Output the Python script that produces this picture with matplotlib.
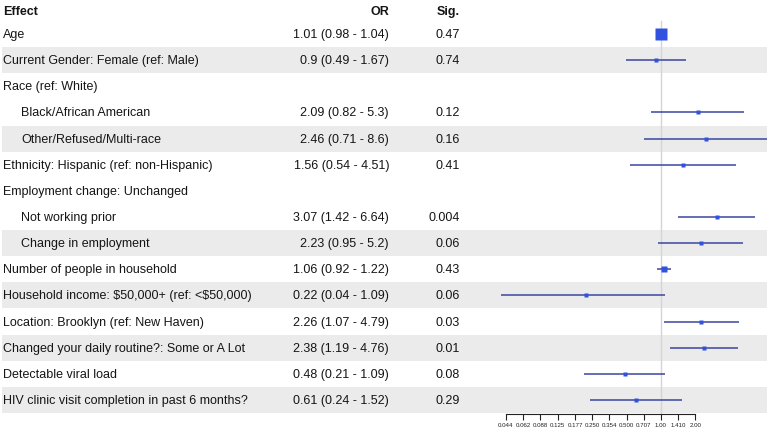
import numpy as np
import matplotlib
matplotlib.use("Agg")
import matplotlib.pyplot as plt
from matplotlib.patches import Rectangle

plt.rcParams['font.family'] = ['Liberation Sans', 'DejaVu Sans']

# ---------------- data ----------------
labels = [
    "Age",
    "Current Gender: Female (ref: Male)",
    "Race (ref: White)",
    "Black/African American",
    "Other/Refused/Multi-race",
    "Ethnicity: Hispanic (ref: non-Hispanic)",
    "Employment change: Unchanged",
    "Not working prior",
    "Change in employment",
    "Number of people in household",
    "Household income: \\$50,000+ (ref: <\\$50,000)",
    "Location: Brooklyn (ref: New Haven)",
    "Changed your daily routine?: Some or A Lot",
    "Detectable viral load",
    "HIV clinic visit completion in past 6 months?",
]
indent = [0, 0, 0, 1, 1, 0, 0, 1, 1, 0, 0, 0, 0, 0, 0]
odds = [1.01, 0.9, None, 2.09, 2.46, 1.56, None, 3.07, 2.23, 1.06, 0.22, 2.26, 2.38, 0.48, 0.61]
lower = [0.98, 0.49, None, 0.82, 0.71, 0.54, None, 1.42, 0.95, 0.92, 0.04, 1.07, 1.19, 0.21, 0.24]
upper = [1.04, 1.67, None, 5.3, 8.6, 4.51, None, 6.64, 5.2, 1.22, 1.09, 4.79, 4.76, 1.09, 1.52]
sig = ["0.47", "0.74", "", "0.12", "0.16", "0.41", "", "0.004", "0.06", "0.43", "0.06", "0.03", "0.01", "0.08", "0.29"]
shaded_rows = [1, 4, 8, 10, 12, 14]
tick_labels = ["0.044", "0.062", "0.088", "0.125", "0.177", "0.250", "0.354", "0.500", "0.707", "1.00", "1.410", "2.00"]

# ---------------- layout ----------------
W, H = 770, 431
fig = plt.figure(figsize=(W / 100, H / 100), dpi=100)
ax = fig.add_axes([0, 0, 1, 1])
ax.set_xlim(0, W)
ax.set_ylim(H, 0)
ax.axis('off')

row0, step = 35.0, 26.14
ys = [row0 + i * step for i in range(len(labels))]
fs = 9.0
txt_col = '#151515'

for i in shaded_rows:
    ax.add_patch(Rectangle((2, ys[i] - 13), 765, 26, facecolor='#ebebeb', edgecolor='none', zorder=0))

ax.text(3, 12, "Effect", ha='left', va='center', fontsize=fs, fontweight='bold', color=txt_col)
ax.text(389, 12, "OR", ha='right', va='center', fontsize=fs, fontweight='bold', color=txt_col)
ax.text(460, 12, "Sig.", ha='right', va='center', fontsize=fs, fontweight='bold', color=txt_col)

for i, lab in enumerate(labels):
    ax.text(21 if indent[i] else 3, ys[i], lab, ha='left', va='center', fontsize=fs, color=txt_col)
    if odds[i] is not None:
        s = f"{odds[i]:g} ({lower[i]:g} - {upper[i]:g})"
        ax.text(389, ys[i], s, ha='right', va='center', fontsize=fs, color=txt_col)
        ax.text(460, ys[i], sig[i], ha='right', va='center', fontsize=fs, color=txt_col)

# ---------------- forest panel ----------------
x_left, x_right, x_one, px_per_log2 = 480, 767, 661, 34.4
fx = fig.add_axes([x_left / W, 0, (x_right - x_left) / W, 1])
fx.patch.set_alpha(0)
fx.set_xscale('log', base=2)
fx.set_xlim(2 ** ((x_left - x_one) / px_per_log2), 2 ** ((x_right - x_one) / px_per_log2))
fx.set_ylim(H, 0)
for sp in ['top', 'left', 'right']:
    fx.spines[sp].set_visible(False)
tick_vals = [float(t) for t in tick_labels]
fx.spines['bottom'].set_position(('data', 415))
fx.spines['bottom'].set_bounds(tick_vals[0], tick_vals[-1])
fx.spines['bottom'].set_linewidth(0.8)
fx.spines['bottom'].set_color('#222222')
fx.set_xticks(tick_vals)
fx.set_xticklabels(tick_labels)
fx.minorticks_off()
fx.tick_params(axis='x', direction='out', length=4, width=0.8, labelsize=4.4, pad=2, colors='#222222')
fx.set_yticks([])

fx.plot([1, 1], [22, 415], color='#d4d4d4', lw=1.0, zorder=1)

w_ref = np.log(upper[0] / lower[0])
for i in range(len(labels)):
    if odds[i] is None:
        continue
    fx.plot([lower[i], upper[i]], [ys[i], ys[i]], color='#3a45a0', lw=1.1, zorder=2, solid_capstyle='butt')
    w = np.log(upper[i] / lower[i])
    ms = max(8.0 * np.sqrt(w_ref / w), 2.6)
    fx.plot([odds[i]], [ys[i]], marker='s', ms=ms, color='#3152e0', mec='none', zorder=3, clip_on=False)

fig.savefig('out.png', dpi=100)
